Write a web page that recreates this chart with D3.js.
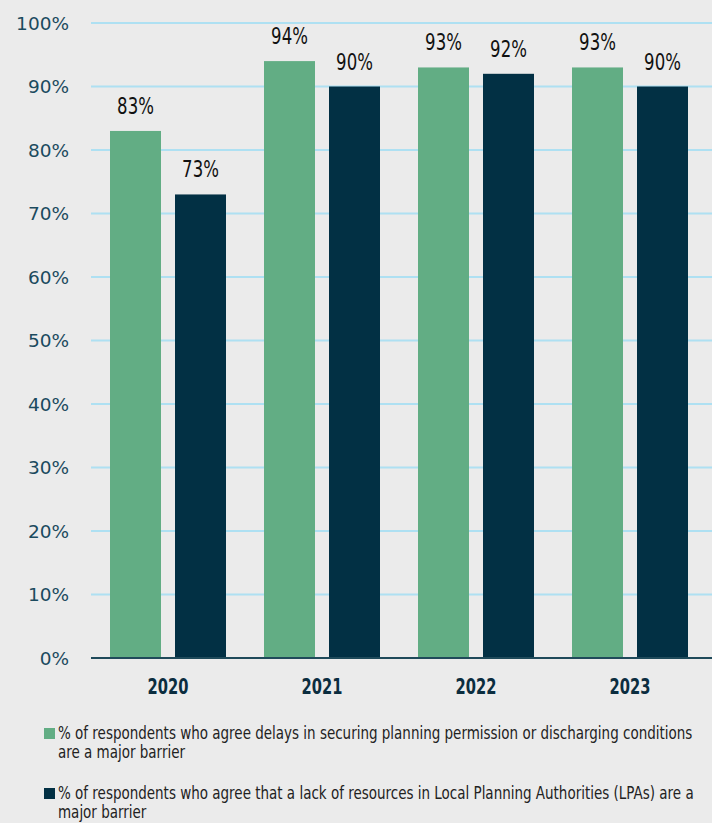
<!DOCTYPE html>
<html>
<head>
<meta charset="utf-8">
<script src="https://cdn.jsdelivr.net/npm/d3@7"></script>
<style>
  body { margin: 0; background: #ebebeb; }
  svg { display: block; }
</style>
</head>
<body>
<svg id="chart" width="712" height="823"></svg>
<script>
const years = ['2020', '2021', '2022', '2023'];
const delays = [83, 94, 93, 93];
const resources = [73, 90, 92, 90];
const ticks = [0, 10, 20, 30, 40, 50, 60, 70, 80, 90, 100];
const seriesNames = [
  ['% of respondents who agree delays in securing planning permission or discharging conditions', 'are a major barrier'],
  ['% of respondents who agree that a lack of resources in Local Planning Authorities (LPAs) are a', 'major barrier']
];
const colors = ['#62ad84', '#023044'];

const svg = d3.select('#chart');
const sans = '"DejaVu Sans", sans-serif';

svg.append('rect').attr('width', 712).attr('height', 823).attr('fill', '#ebebeb');

const x = d3.scaleBand().domain(years).range([91, 707]);
const xs = d3.scaleBand().domain([0, 1]).range([0, 116]).paddingInner(14 / 65);
const y = d3.scaleLinear().domain([0, 100]).range([658, 23]);

// gridlines
svg.append('g').selectAll('line').data(ticks.filter(t => t > 0)).join('line')
  .attr('x1', 91).attr('x2', 712)
  .attr('y1', d => y(d)).attr('y2', d => y(d))
  .attr('stroke', '#aee0f2').attr('stroke-width', 2);

// y tick labels
svg.append('g').selectAll('text').data(ticks).join('text')
  .attr('x', 69).attr('y', d => y(d)).attr('dy', '0.36em')
  .attr('text-anchor', 'end')
  .attr('font-family', sans)
  .attr('font-size', 18.5).attr('fill', '#1b4a5e')
  .text(d => d + '%');

const rows = years.map((yr, i) => ({ yr, vals: [delays[i], resources[i]] }));

const groups = svg.append('g').selectAll('g').data(rows).join('g')
  .attr('transform', d => `translate(${x(d.yr) + (x.bandwidth() - 116) / 2},0)`);

groups.selectAll('rect').data(d => d.vals).join('rect')
  .attr('x', (d, i) => xs(i))
  .attr('width', xs.bandwidth())
  .attr('y', d => y(d))
  .attr('height', d => y(0) - y(d))
  .attr('fill', (d, i) => colors[i]);

// value labels, squeezed to look condensed
groups.selectAll('text').data(d => d.vals).join('text')
  .attr('transform', (d, i) => `translate(${xs(i) + xs.bandwidth() / 2},${y(d) - 17}) scale(0.72,1)`)
  .attr('text-anchor', 'middle')
  .attr('font-family', sans).attr('font-size', 23).attr('fill', '#111')
  .text(d => d + '%');

// baseline
svg.append('line').attr('x1', 91).attr('x2', 712).attr('y1', y(0)).attr('y2', y(0))
  .attr('stroke', '#1f4a5a').attr('stroke-width', 2);

// x labels
svg.append('g').selectAll('text').data(years).join('text')
  .attr('transform', d => `translate(${x(d) + x.bandwidth() / 2},694) scale(0.7,1)`)
  .attr('text-anchor', 'middle')
  .attr('font-family', sans).attr('font-weight', 'bold')
  .attr('font-size', 21).attr('fill', '#0b2d3f')
  .text(d => d);

// legend
const leg = svg.append('g').selectAll('g').data(seriesNames).join('g')
  .attr('transform', (d, i) => `translate(44,${739 + i * 60})`);
leg.append('rect').attr('x', 0).attr('y', -11).attr('width', 11).attr('height', 11)
  .attr('fill', (d, i) => colors[i]);
const legText = leg.append('g').attr('class', 'ltext');
legText.selectAll('text').data(d => d).join('text')
  .attr('x', 0).attr('y', (d, i) => i * 19)
  .attr('font-family', sans).attr('font-size', 17).attr('fill', '#222')
  .text(d => d);

// squeeze legend so the first line spans the same width as the reference
const firstLen = legText.select('text').node().getComputedTextLength();
const sx = 635 / firstLen;
legText.attr('transform', `translate(14,0) scale(${sx},1)`);
</script>
</body>
</html>
